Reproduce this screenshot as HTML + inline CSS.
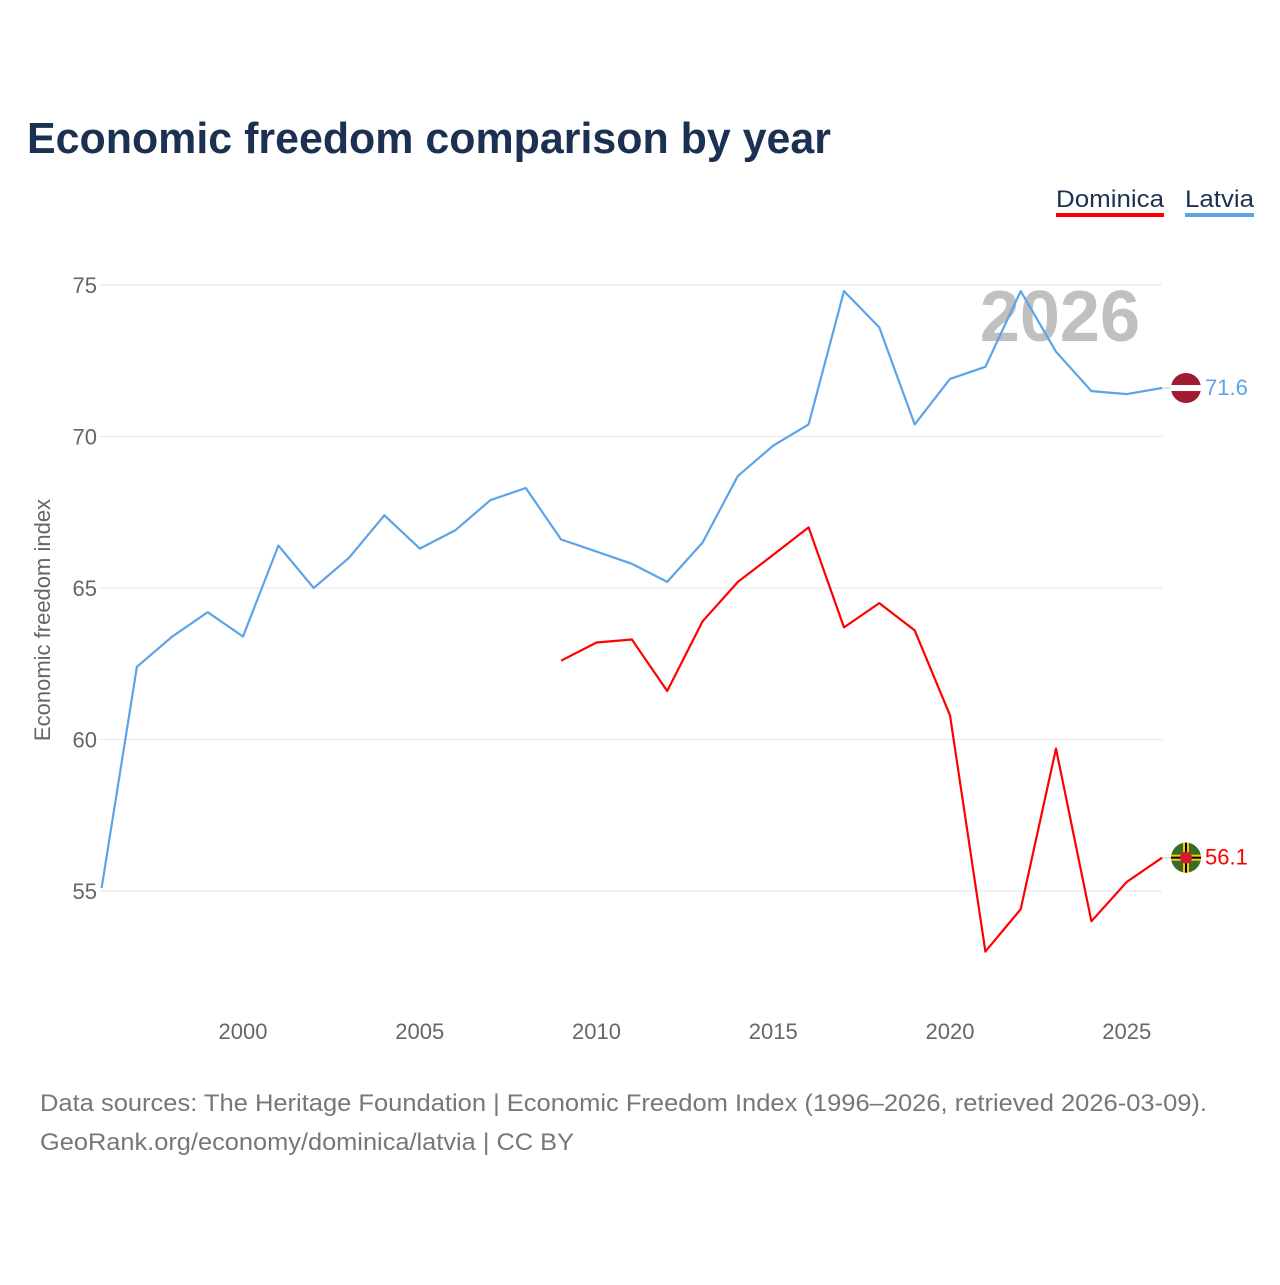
<!DOCTYPE html>
<html><head><meta charset="utf-8"><style>
html,body{margin:0;padding:0;background:#fff;}
svg text{font-family:"Liberation Sans",sans-serif;}
</style></head><body>
<svg id="chart" width="1280" height="1280" viewBox="0 0 1280 1280" xmlns="http://www.w3.org/2000/svg">
<text x="27" y="153" font-size="44" font-weight="bold" fill="#1c3152" textLength="804" lengthAdjust="spacingAndGlyphs">Economic freedom comparison by year</text>
<g>
<text x="1056" y="207" font-size="24" fill="#1c3152" textLength="108" lengthAdjust="spacingAndGlyphs">Dominica</text>
<rect x="1056" y="213" width="108" height="4" fill="#ff0000"/>
<text x="1185" y="207" font-size="24" fill="#1c3152" textLength="69" lengthAdjust="spacingAndGlyphs">Latvia</text>
<rect x="1185" y="213" width="69" height="4" fill="#5ba4e8"/>
</g>
<g id="grid"></g>
<text x="1140" y="341" font-size="72" font-weight="bold" fill="#c0c0c0" text-anchor="end">2026</text>
<text transform="translate(50,620) rotate(-90)" font-size="22" fill="#666" text-anchor="middle">Economic freedom index</text>
<g id="series"></g>
<text x="40" y="1111" font-size="24" fill="#777" textLength="1167" lengthAdjust="spacingAndGlyphs">Data sources: The Heritage Foundation | Economic Freedom Index (1996–2026, retrieved 2026-03-09).</text>
<text x="40" y="1150" font-size="24" fill="#777" textLength="534" lengthAdjust="spacingAndGlyphs">GeoRank.org/economy/dominica/latvia | CC BY</text>
</svg>
<script>
const years = [1996,1997,1998,1999,2000,2001,2002,2003,2004,2005,2006,2007,2008,2009,2010,2011,2012,2013,2014,2015,2016,2017,2018,2019,2020,2021,2022,2023,2024,2025,2026];
const latvia = [55.1,62.4,63.4,64.2,63.4,66.4,65.0,66.0,67.4,66.3,66.9,67.9,68.3,66.6,66.2,65.8,65.2,66.5,68.7,69.7,70.4,74.8,73.6,70.4,71.9,72.3,74.8,72.8,71.5,71.4,71.6];
const dominica = [null,null,null,null,null,null,null,null,null,null,null,null,null,62.6,63.2,63.3,61.6,63.9,65.2,66.1,67.0,63.7,64.5,63.6,60.8,53.0,54.4,59.7,54.0,55.3,56.1];
const yTicks = [55,60,65,70,75];
const xTicks = [2000,2005,2010,2015,2020,2025];

const NS="http://www.w3.org/2000/svg";
function x(yr){return 101.6+(yr-1996)*35.35;}
function y(v){return 891-(v-55)*30.3;}
function mk(tag,attrs,parent){const e=document.createElementNS(NS,tag);for(const k in attrs)e.setAttribute(k,attrs[k]);parent.appendChild(e);return e;}
const grid=document.getElementById('grid');
yTicks.forEach(t=>{
  const l=mk('line',{x1:100,x2:1162,y1:y(t),y2:y(t),stroke:'#e6e6e6','stroke-width':1},grid);
  
  
  const tx=mk('text',{x:97,y:y(t)+8,'font-size':22,fill:'#666','text-anchor':'end'},grid);
  tx.textContent=t;
  
  
});
xTicks.forEach(t=>{
  const tx=mk('text',{x:x(t),y:1039,'font-size':22,fill:'#666','text-anchor':'middle'},grid);
  tx.textContent=t;
  
  
});
const ser=document.getElementById('series');
function drawLine(vals,color,name){
  let d='';let pen=false;
  vals.forEach((v,i)=>{if(v==null){pen=false;return;}d+=(pen?'L':'M')+x(years[i]).toFixed(1)+' '+y(v).toFixed(1);pen=true;});
  const p=mk('path',{d:d,fill:'none',stroke:color,'stroke-width':2.2,'stroke-linejoin':'round'},ser);
  
  
  const last=vals[vals.length-1];const ly=y(last);
  mk('line',{x1:x(years[years.length-1]),x2:1174,y1:ly,y2:ly,stroke:'#ccc','stroke-width':1},ser);
  const tx=mk('text',{x:1205,y:ly+7,'font-size':22,fill:color},ser);
  tx.textContent=last.toFixed(1);
  
  
  return ly;
}
const ly1=drawLine(latvia,'#5ba4e8','latvia');
const ly2=drawLine(dominica,'#ff0000','dominica');
const g1=mk('g',{},ser);


mk('circle',{cx:1186,cy:ly1,r:15,fill:'#9e1b32'},g1);
mk('rect',{x:1171,y:ly1-3,width:30,height:6,fill:'#fff'},g1);
const g2=mk('g',{},ser);


mk('circle',{cx:1186,cy:ly2,r:15,fill:'#3a6b2a'},g2);
mk('rect',{x:1171,y:ly2-3,width:30,height:6,fill:'#f5d000'},g2);
mk('rect',{x:1183,y:ly2-15,width:6,height:30,fill:'#f5d000'},g2);
mk('rect',{x:1171,y:ly2-1,width:30,height:2,fill:'#000'},g2);
mk('rect',{x:1185,y:ly2-15,width:2,height:30,fill:'#000'},g2);
mk('circle',{cx:1186,cy:ly2,r:6,fill:'#d41c30'},g2);
</script>
</body></html>
